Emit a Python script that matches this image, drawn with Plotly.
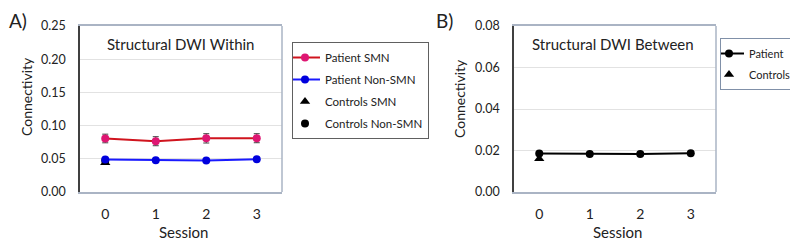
import plotly.graph_objects as go

sessions = [0, 1, 2, 3]

# Panel A: Structural DWI Within
patient_smn = [0.0806, 0.0765, 0.0808, 0.0810]
patient_smn_err = [0.0065, 0.0068, 0.0070, 0.0068]
patient_nonsmn = [0.0488, 0.0480, 0.0475, 0.0493]
patient_nonsmn_err = [0.0012, 0.0010, 0.0010, 0.0010]
controls_smn = [0.0440]
controls_nonsmn = [0.0470]
controls_session = [0]

# Panel B: Structural DWI Between
patient_between = [0.0185, 0.0183, 0.0183, 0.0187]
patient_between_err = [0.0008, 0.0005, 0.0005, 0.0005]
controls_between = [0.0160]

yticks_a = [0.00, 0.05, 0.10, 0.15, 0.20, 0.25]
yticks_b = [0.00, 0.02, 0.04, 0.06, 0.08]

FONT = "Lato"
OFF = 8  # page body margin
W, H = 798 - OFF, 240 - OFF

def px(x):
    return (x - OFF) / W

def py(y):
    return 1 - (y - OFF) / H

fig = go.Figure()

# Panel A traces
fig.add_trace(go.Scatter(x=controls_session, y=controls_nonsmn, mode="markers",
                         marker=dict(symbol="circle", color="black", size=8),
                         name="Controls Non-SMN", xaxis="x", yaxis="y",
                         legend="legend", legendgroup="d", legendrank=4))
fig.add_trace(go.Scatter(x=controls_session, y=controls_smn, mode="markers",
                         marker=dict(symbol="triangle-up", color="black", size=9),
                         name="Controls SMN", xaxis="x", yaxis="y",
                         legend="legend", legendgroup="c", legendrank=3))
fig.add_trace(go.Scatter(x=sessions, y=patient_nonsmn, mode="lines+markers",
                         line=dict(color="#1a1aff", width=2),
                         marker=dict(symbol="circle", color="#0000dd", size=8),
                         error_y=dict(type="data", array=patient_nonsmn_err, color="#404040",
                                      thickness=1, width=3),
                         name="Patient Non-SMN", xaxis="x", yaxis="y",
                         legend="legend", legendgroup="b", legendrank=2))
fig.add_trace(go.Scatter(x=sessions, y=patient_smn, mode="lines+markers",
                         line=dict(color="#d0141e", width=2),
                         marker=dict(symbol="circle", color="#de1672", size=8),
                         error_y=dict(type="data", array=patient_smn_err, color="#404040",
                                      thickness=1, width=3),
                         name="Patient SMN", xaxis="x", yaxis="y",
                         legend="legend", legendgroup="a", legendrank=1))

# Panel B traces
fig.add_trace(go.Scatter(x=controls_session, y=controls_between, mode="markers",
                         marker=dict(symbol="triangle-up", color="black", size=9),
                         name="Controls", xaxis="x2", yaxis="y2",
                         legend="legend2", legendgroup="f", legendrank=2))
fig.add_trace(go.Scatter(x=sessions, y=patient_between, mode="lines+markers",
                         line=dict(color="black", width=2),
                         marker=dict(symbol="circle", color="black", size=8),
                         error_y=dict(type="data", array=patient_between_err, color="#404040",
                                      thickness=1, width=3),
                         name="Patient", xaxis="x2", yaxis="y2",
                         legend="legend2", legendgroup="e", legendrank=1))

ydom = [py(192), py(26)]
xdomA = [px(80), px(282)]
xdomB = [px(514), px(716)]

xcommon = dict(range=[-0.5, 3.5], tickvals=sessions, ticktext=[str(s) for s in sessions],
               showgrid=False, zeroline=False, showline=True, linecolor="#aab4c4",
               linewidth=1.5, mirror=True, ticks="", ticklabelstandoff=8, automargin=False,
               tickfont=dict(family=FONT, size=14, color="#222222"), fixedrange=True)
ycommon = dict(showgrid=True, gridcolor="#e2e2e2", gridwidth=1, zeroline=False,
               showline=True, linecolor="#404040", linewidth=1.5, ticks="",
               ticklabelstandoff=10, tickformat=".2f", automargin=False,
               tickfont=dict(family=FONT, size=12.5, color="#222222"), fixedrange=True)

fig.update_layout(
    width=W, height=H, margin=dict(l=0, r=0, t=0, b=0, autoexpand=False),
    paper_bgcolor="white", plot_bgcolor="white",
    font=dict(family=FONT, color="#222222"),
    xaxis=dict(domain=xdomA, anchor="y", **xcommon),
    yaxis=dict(domain=ydom, anchor="x", range=[0, 0.25], tickvals=yticks_a, **ycommon),
    xaxis2=dict(domain=xdomB, anchor="y2", **xcommon),
    yaxis2=dict(domain=ydom, anchor="x2", range=[0, 0.08], tickvals=yticks_b, **ycommon),
    legend=dict(x=px(292), y=py(42), xanchor="left", yanchor="top",
                bordercolor="#606060", borderwidth=1, bgcolor="white",
                font=dict(family=FONT, size=11.5, color="#222222"),
                tracegroupgap=3, itemwidth=30, traceorder="grouped", indentation=-8),
    legend2=dict(x=px(720), y=py(38), xanchor="left", yanchor="top",
                 bordercolor="#8090a8", borderwidth=1, bgcolor="white",
                 font=dict(family=FONT, size=11, color="#222222"),
                 tracegroupgap=2, itemwidth=30, traceorder="grouped", indentation=-12),
    showlegend=True,
)

# right border lines of plot areas (light grey-blue)
for dom in (xdomA, xdomB):
    fig.add_shape(type="line", xref="paper", yref="paper", x0=dom[1], x1=dom[1],
                  y0=ydom[0], y1=ydom[1], line=dict(color="#aab4c4", width=1.5))

annotations = [
    dict(text="Structural DWI Within", x=px(181), y=py(44), font=dict(size=15)),
    dict(text="Structural DWI Between", x=px(613), y=py(44), font=dict(size=15)),
    dict(text="Connectivity", x=px(27), y=py(97), textangle=-90, font=dict(size=14)),
    dict(text="Connectivity", x=px(460), y=py(99), textangle=-90, font=dict(size=14)),
    dict(text="Session", x=px(183), y=py(232), font=dict(size=15)),
    dict(text="Session", x=px(617), y=py(232), font=dict(size=15)),
]
for a in annotations:
    fig.add_annotation(xref="paper", yref="paper", showarrow=False,
                       xanchor="center", yanchor="middle",
                       font_family=FONT, font_color="#222222", **a)

# panel letters (kept inside the figure area)
fig.add_annotation(text="A)", xref="paper", yref="paper", x=0, y=1, xanchor="left",
                   yanchor="top", showarrow=False, borderpad=0,
                   font=dict(family=FONT, size=19, color="#222222"))
fig.add_annotation(text="B)", xref="paper", yref="paper", x=px(435), y=1, xanchor="left",
                   yanchor="top", showarrow=False, borderpad=0,
                   font=dict(family=FONT, size=19, color="#222222"))

fig.write_html("out.html")
